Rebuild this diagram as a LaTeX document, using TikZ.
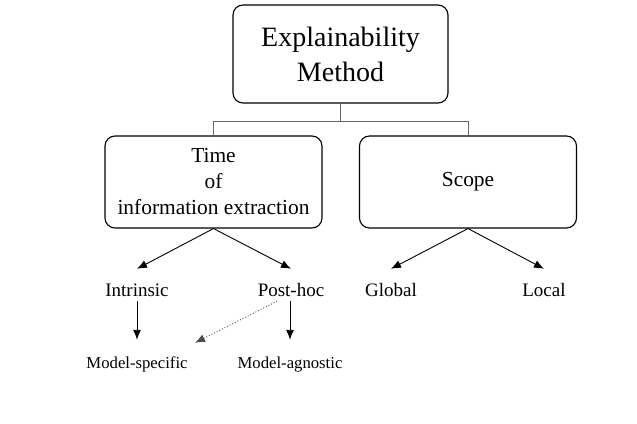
\documentclass[tikz,border=0pt]{standalone}
\usepackage{fontspec}
\setmainfont{Liberation Serif}
\usetikzlibrary{arrows.meta}
\begin{document}
\begin{tikzpicture}[x=1pt,y=-1pt,
  box/.style={draw=black,line width=1.1pt,rounded corners=10pt,align=center,inner sep=0pt},
  tree/.style={draw=black!60,line width=1pt},
  arr/.style={draw=black,line width=0.9pt,-{Latex[length=10pt,width=8pt]}},
  dotarr/.style={draw=black!70,line width=0.9pt,dotted,-{Latex[length=10pt,width=8pt]}},
  lab/.style={inner sep=0pt,font=\fontsize{19}{22}\selectfont,text height=13pt,text depth=4pt},
  sublab/.style={inner sep=0pt,font=\fontsize{16.7}{20}\selectfont,text height=12pt,text depth=4pt}]
\useasboundingbox (0,0) rectangle (637,423);
\node[box,minimum width=215pt,minimum height=98pt,font=\fontsize{28}{35}\selectfont] (top) at (340.5,54) {Explainability\\Method};
\node[box,minimum width=217pt,minimum height=92pt,font=\fontsize{21.4}{26}\selectfont] (tl) at (213.5,182) {Time\\of\\information extraction};
\node[box,minimum width=217pt,minimum height=92pt,font=\fontsize{21.4}{26}\selectfont] (tr) at (468,182) {Scope};
\coordinate (mid) at (340.5,121);
\draw[tree] (top.south) -- (mid);
\draw[tree] (mid) -| (tl.north);
\draw[tree] (mid) -| (tr.north);
\node[lab] (intr) at (137,291.5) {Intrinsic};
\node[lab] (ph) at (291,291.5) {Post-hoc};
\node[lab] (glob) at (391,291.5) {Global};
\node[lab] (loc) at (544,291.5) {Local};
\node[sublab] (ms) at (137,364) {Model-specific};
\node[sublab] (ma) at (290,364) {Model-agnostic};
\draw[arr] (tl.south) -- ([yshift=14pt]intr.north);
\draw[arr] (tl.south) -- ([yshift=14pt]ph.north);
\draw[arr] (tr.south) -- ([yshift=14pt]glob.north);
\draw[arr] (tr.south) -- ([yshift=14pt]loc.north);
\draw[arr] ([yshift=-1pt]intr.south) -- ([yshift=16pt]ms.north);
\draw[arr] ([yshift=-1pt,xshift=-1pt]ph.south) -- ([yshift=16pt]ma.north);
\draw[dotarr] ([xshift=-14pt,yshift=-1pt]ph.south) -- ([xshift=58pt,yshift=13pt]ms.north);
\end{tikzpicture}
\end{document}
